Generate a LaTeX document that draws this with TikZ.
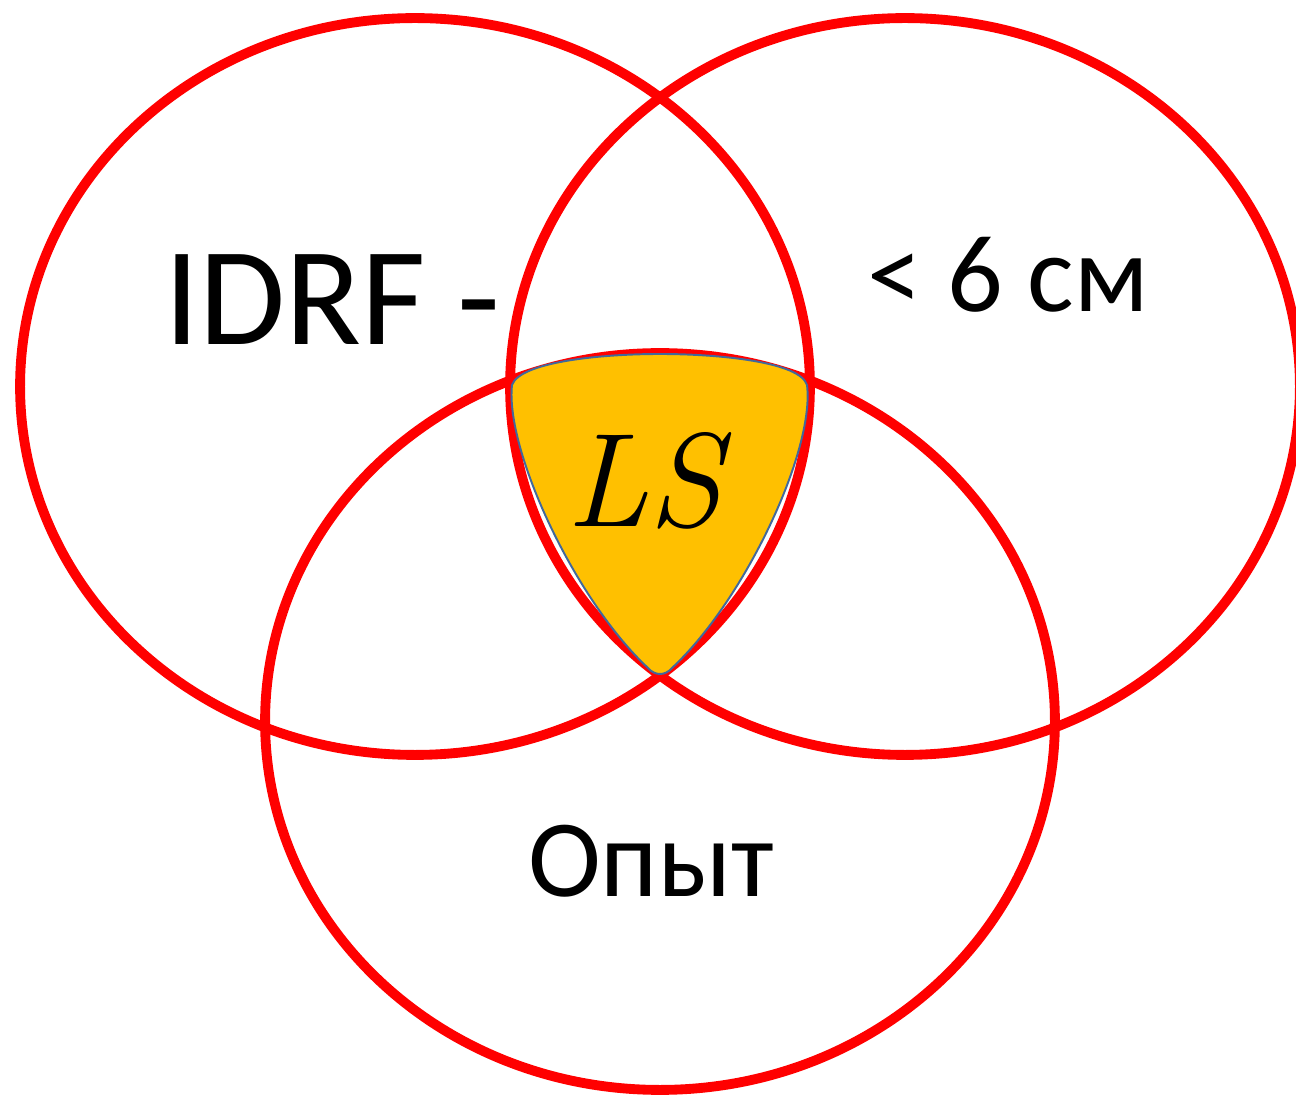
\documentclass[tikz,border=0pt]{standalone}
\usepackage{fontspec}
\newfontfamily\labelfont{Carlito}
\usetikzlibrary{shapes.geometric}
\definecolor{ringred}{HTML}{FF0000}
\definecolor{pickgold}{HTML}{FFC000}
\definecolor{pickedge}{HTML}{41689C}
\tikzset{
  ring/.style={draw=ringred, line width=5.6pt, ellipse, inner sep=0pt,
               minimum width=15.8cm, minimum height=14.74cm},
  bigtext/.style={font=\labelfont\fontsize{79.7}{90}\selectfont, inner sep=0pt},
  midtext/.style={font=\labelfont\fontsize{62.6}{72}\selectfont, inner sep=0pt},
  lstext/.style={font=\itshape\fontsize{76}{86}\selectfont, inner sep=0pt},
  pick/.style={fill=pickgold, draw=pickedge, line width=1.1pt}
}
\begin{document}
\begin{tikzpicture}[x=0.02cm, y=-0.02cm]
  \useasboundingbox (0,0) rectangle (1296,1097);
  \fill[white] (0,0) rectangle (1296,1097);

  % three overlapping sets
  \node[ring] (setL) at (415,386.5) {};
  \node[ring] (setR) at (905,386.5) {};
  \node[ring] (setB) at (660,721.5) {};

  % common intersection
  \path[pick] (512,385)
     .. controls (520,362) and (600,354) .. (660,354)
     .. controls (720,354) and (800,362) .. (807,385)
     .. controls (815,450) and (745,600) .. (672,668)
     .. controls (665,676) and (655,676) .. (648,668)
     .. controls (575,600) and (505,450) .. (512,385) -- cycle;

  % labels
  \node[bigtext, anchor=base west] (idrf) at (164,345) {IDRF -};
  \node[midtext, anchor=base] (size) at (1008,312) {< 6 см};
  \node[midtext, anchor=base] (exp) at (651,897) {Опыт};
  \node[lstext, anchor=base] (ls) at (644,527) {LS};
\end{tikzpicture}
\end{document}
